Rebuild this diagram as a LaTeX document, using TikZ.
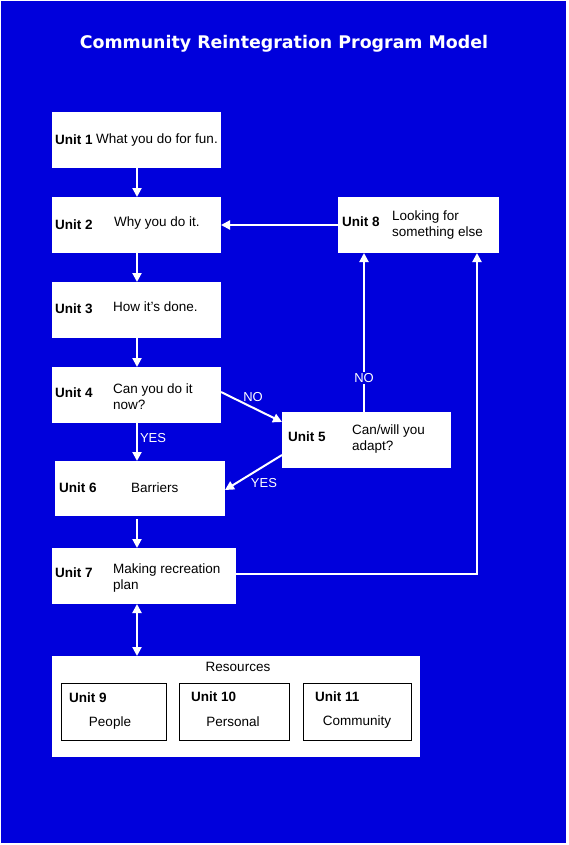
\documentclass[tikz,border=0pt]{standalone}
\usepackage{fontspec}
\setmainfont{Liberation Sans}
\newfontfamily\titlefont{DejaVu Sans}
\usetikzlibrary{arrows.meta}
\definecolor{bgblue}{RGB}{0,0,220}
\tikzset{
  box/.style={fill=white, draw=none, inner sep=0pt, outer sep=0pt, anchor=north west},
  subbox/.style={fill=white, draw=black, line width=1pt, inner sep=0pt, outer sep=0pt, anchor=north west},
  unitlbl/.style={anchor=west, inner sep=0pt, font=\fontsize{13.5}{15}\selectfont\bfseries, text=black},
  body/.style={anchor=west, inner sep=0pt, font=\fontsize{13.5}{16}\selectfont, text=black, align=left},
  arr/.style={draw=white, line width=2pt, -{Triangle[length=9pt,width=9pt]}},
  dblarr/.style={draw=white, line width=2pt, {Triangle[length=9pt,width=9pt]}-{Triangle[length=9pt,width=9pt]}},
  edgelbl/.style={inner sep=1pt, font=\fontsize{13}{15}\selectfont, text=white}
}
\begin{document}
\begin{tikzpicture}[x=1pt,y=-1pt]
\useasboundingbox (0,0) rectangle (568,845);
\fill[white] (0,0) rectangle (568,845);
\fill[bgblue] (1,1) rectangle (566,843);
\node[text=white, font=\titlefont\fontsize{17.4}{20}\selectfont\bfseries] (title) at (284,44) {Community Reintegration Program Model};
\coordinate (col) at (137,0);
\coordinate (colr) at (364,0);
\coordinate (colf) at (477,0);
% boxes
\node[box, minimum width=169pt, minimum height=56pt] (u1) at (52,112) {};
\node[box, minimum width=169pt, minimum height=56pt] (u2) at (52,197) {};
\node[box, minimum width=169pt, minimum height=56pt] (u3) at (52,282) {};
\node[box, minimum width=169pt, minimum height=56pt] (u4) at (52,367) {};
\node[box, minimum width=170pt, minimum height=55pt] (u6) at (55,461) {};
\node[box, minimum width=184pt, minimum height=56pt] (u7) at (52,548) {};
\node[box, minimum width=161pt, minimum height=56pt] (u8) at (338,197) {};
\node[box, minimum width=169pt, minimum height=56pt] (u5) at (282,412) {};
\node[box, minimum width=368pt, minimum height=101pt] (res) at (52,656) {};
\node[subbox, minimum width=105pt, minimum height=57pt] (u9) at (61,683) {};
\node[subbox, minimum width=110pt, minimum height=57pt] (u10) at (179,683) {};
\node[subbox, minimum width=108pt, minimum height=57pt] (u11) at (303,683) {};
% texts
\node[unitlbl] (t1a) at (55,140) {Unit 1};
\node[body] (t1b) at (96,140) {What you do for fun.};
\node[unitlbl] (t2a) at (55,225) {Unit 2};
\node[body] (t2b) at (114,223) {Why you do it.};
\node[unitlbl] (t3a) at (55,309) {Unit 3};
\node[body] (t3b) at (113,307) {How it's done.};
\node[unitlbl] (t4a) at (55,393) {Unit 4};
\node[body] (t4b) at (113,397) {Can you do it\\now?};
\node[unitlbl] (t6a) at (59,488) {Unit 6};
\node[body] (t6b) at (131,488) {Barriers};
\node[unitlbl] (t7a) at (55,573) {Unit 7};
\node[body] (t7b) at (113,578) {Making recreation\\plan};
\node[unitlbl] (t8a) at (342,222) {Unit 8};
\node[body] (t8b) at (392,225) {Looking for\\something else};
\node[unitlbl] (t5a) at (288,437) {Unit 5};
\node[body] (t5b) at (352,439) {Can/will you\\adapt?};
\node[body, anchor=center] (tres) at (238,667) {Resources};
\node[unitlbl] (t9a) at (69,698) {Unit 9};
\node[body, anchor=center] (t9b) at (110,723) {People};
\node[unitlbl] (t10a) at (191,697) {Unit 10};
\node[body, anchor=center] (t10b) at (233,722) {Personal};
\node[unitlbl] (t11a) at (315,697) {Unit 11};
\node[body, anchor=center] (t11b) at (357,722) {Community};
% connectors
\draw[arr] (u1.south -| col) -- (u2.north -| col);
\draw[arr] (u2.south -| col) -- (u3.north -| col);
\draw[arr] (u3.south -| col) -- (u4.north -| col);
\draw[arr] (u4.south -| col) -- (u6.north -| col) node[edgelbl, pos=0.4, anchor=west, xshift=1pt] (yes1) {YES};
\draw[arr] ([yshift=-3pt]u6.south -| col) -- (u7.north -| col);
\draw[dblarr] (u7.south -| col) -- (res.north -| col);
\draw[arr] ([yshift=3pt]u4.east) -- ([yshift=18pt]u5.west);
\node[edgelbl] (no1) at (253,397) {NO};
\draw[arr] ([yshift=-15pt]u5.west) -- ([yshift=-1.5pt]u6.east);
\node[edgelbl] (yes2) at (264,483) {YES};
\draw[arr] (u5.north -| colr) -- (u8.south -| colr);
\node[edgelbl, fill=bgblue] (no2) at (364,378) {NO};
\draw[arr] (u8.west) -- (u2.east);
\draw[arr] ([yshift=2pt]u7.east) -- ([yshift=2pt]u7.east -| colf) -- (u8.south -| colf);
\end{tikzpicture}
\end{document}
